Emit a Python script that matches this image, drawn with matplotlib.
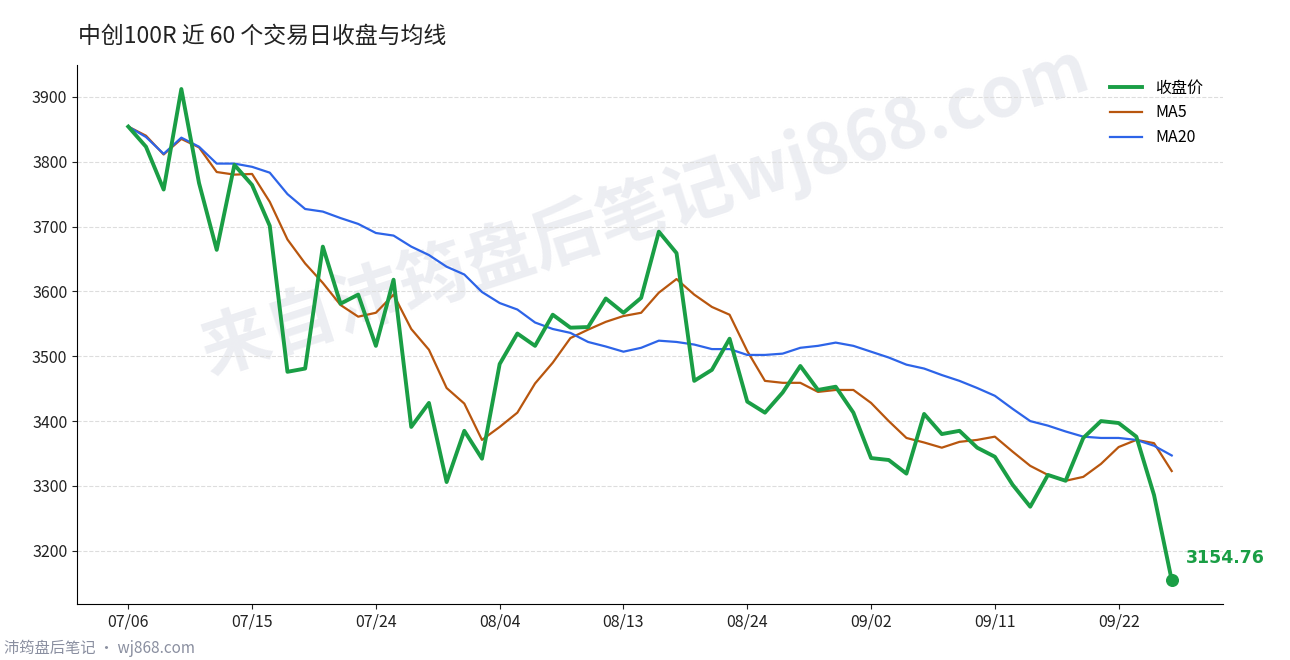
import matplotlib
matplotlib.use("Agg")
import matplotlib.pyplot as plt

plt.rcParams['font.family'] = ['Noto Sans CJK SC', 'DejaVu Sans']

dates = ["07/06","07/15","07/24","08/04","08/13","08/24","09/02","09/11","09/22"]
tick_idx = [0, 7, 14, 21, 28, 35, 42, 49, 56]

close = [3854,3823,3757,3912,3767,3664,3795,3764,3701,3476,3481,3669,3581,3595,3516,3618,
         3391,3428,3306,3385,3342,3488,3535,3516,3564,3544,3545,3589,3567,3590,3692,3659,
         3462,3479,3527,3430,3413,3444,3485,3448,3453,3413,3343,3340,3319,3411,3380,3385,
         3359,3345,3302,3268,3317,3308,3374,3400,3397,3376,3286,3154.76]
ma5 = [3854,3840,3811,3835,3822,3784,3780,3781,3738,3680,3643,3613,3579,3561,3567,3595,
       3542,3510,3451,3427,3371,3391,3413,3458,3490,3528,3541,3553,3562,3567,3598,3619,
       3595,3576,3564,3508,3462,3459,3459,3445,3448,3448,3428,3400,3374,3367,3359,3368,
       3371,3376,3353,3331,3317,3308,3314,3334,3360,3371,3366,3323]
ma20 = [3854,3838,3812,3837,3823,3797,3797,3792,3783,3750,3727,3723,3713,3704,3690,3686,
        3669,3656,3638,3626,3599,3582,3572,3552,3542,3536,3522,3515,3507,3513,3524,3522,
        3518,3511,3511,3502,3502,3504,3513,3516,3521,3516,3507,3498,3487,3481,3471,3462,
        3451,3439,3419,3400,3393,3384,3376,3374,3374,3371,3362,3347]
x = list(range(len(close)))

fig = plt.figure(figsize=(12.9, 6.6), dpi=100)
ax = fig.add_axes([77/1290, 1-604/660, (1223-77)/1290, (604-65)/660])

ax.text(645/1290, 1-210/660, "来自沛筠盘后笔记wj868.com", fontsize=50, fontweight='bold', color='#e6e8ee',
        alpha=0.75, rotation=18, ha='center', va='center', zorder=0, transform=fig.transFigure)

ax.plot(x, close, color='#1a9e45', lw=2.8, label='收盘价', zorder=4)
ax.plot(x, ma5, color='#b8560e', lw=1.6, label='MA5', zorder=3)
ax.plot(x, ma20, color='#2d64e8', lw=1.6, label='MA20', zorder=3)
ax.scatter([x[-1]], [close[-1]], s=70, color='#1a9e45', zorder=5)
ax.annotate(f"{close[-1]:.2f}", (x[-1], close[-1]), xytext=(10, 12), textcoords='offset points',
            color='#1a9e45', fontsize=12.5, fontweight='bold', fontfamily=['DejaVu Sans'])

ax.set_xlim(-2.9, 61.9)
ax.set_ylim(3118, 3949)
ax.set_yticks([3200,3300,3400,3500,3600,3700,3800,3900])
ax.set_xticks(tick_idx)
ax.set_xticklabels(dates)
ax.tick_params(labelsize=11.5, colors='#222222')
ax.grid(axis='y', ls='--', color='#dddddd', lw=0.8)
ax.set_axisbelow(True)
for s in ['top', 'right']:
    ax.spines[s].set_visible(False)
ax.patch.set_alpha(0)

leg = ax.legend(loc='upper right', frameon=False, fontsize=11.5, bbox_to_anchor=(0.995, 1.0))

fig.text(78/1290, 1-36/660, "中创100R 近 60 个交易日收盘与均线", fontsize=16.5, color='#222222', va='center')
fig.text(4/1290, 1-648/660, "沛筠盘后笔记 · wj868.com", fontsize=11, color='#8a8fa0', va='center')

fig.savefig("out.png", dpi=100)
